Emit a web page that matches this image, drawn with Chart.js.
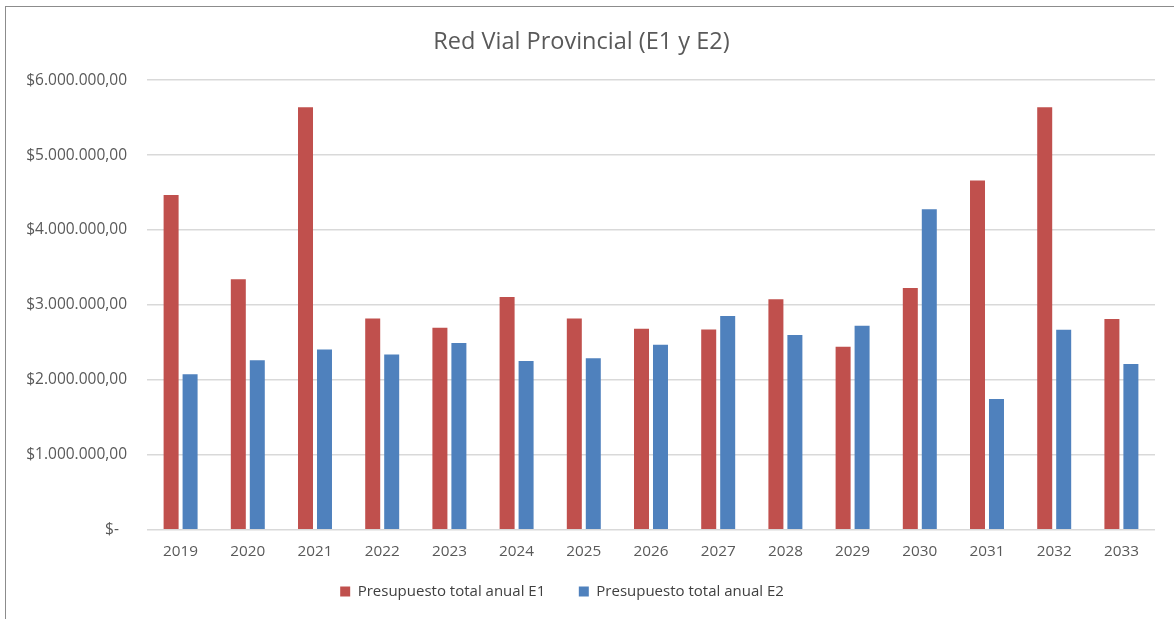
<!DOCTYPE html>
<html>
<head>
<meta charset="utf-8">
<script src="https://cdn.jsdelivr.net/npm/chart.js@4"></script>
<style>
  html, body { margin: 0; padding: 0; background: #fff; overflow: hidden; }
  .chart-container { position: relative; width: 1174px; height: 619px; }
  .frame { position: absolute; left: 5px; top: 6px; right: -10px; bottom: -10px;
           border-top: 1.5px solid #8c8c8c; border-left: 1.5px solid #8c8c8c; pointer-events: none; }
</style>
</head>
<body>
<div class="chart-container">
  <canvas id="chart" width="1174" height="619"></canvas>
  <div class="frame"></div>
</div>
<script>
const years = ['2019', '2020', '2021', '2022', '2023', '2024', '2025', '2026', '2027', '2028', '2029', '2030', '2031', '2032', '2033'];
const presupuestoE1 = [4469000, 3343000, 5640000, 2820000, 2695000, 3106000, 2820000, 2681000, 2673000, 3075000, 2440000, 3227000, 4660000, 5640000, 2811000];
const presupuestoE2 = [2074000, 2261000, 2405000, 2338000, 2490000, 2252000, 2288000, 2467000, 2851000, 2597000, 2721000, 4276000, 1743000, 2668000, 2212000];

const textColor = '#595959';
const gridColor = '#d9d9d9';
const fontFamily = '"Open Sans", "Noto Sans", sans-serif';

// Excel style accounting format: $6.000.000,00 and $- for zero
function formatMoney(value) {
  if (value === 0) return '$-  ';
  const intPart = Math.round(value).toString().replace(/\B(?=(\d{3})+(?!\d))/g, '.');
  return '$' + intPart + ',00';
}

const ctx = document.getElementById('chart').getContext('2d');
new Chart(ctx, {
  type: 'bar',
  data: {
    labels: years,
    datasets: [
      {
        label: 'Presupuesto total anual E1',
        data: presupuestoE1,
        backgroundColor: '#C0504D',
        categoryPercentage: 0.565,
        barPercentage: 0.79,
      },
      {
        label: 'Presupuesto total anual E2',
        data: presupuestoE2,
        backgroundColor: '#4F81BD',
        categoryPercentage: 0.565,
        barPercentage: 0.79,
      }
    ]
  },
  options: {
    responsive: false,
    animation: false,
    layout: {
      padding: { left: 8, right: 19, top: 28, bottom: 10 }
    },
    plugins: {
      title: {
        display: true,
        text: 'Red Vial Provincial (E1 y E2)',
        color: textColor,
        font: { family: fontFamily, size: 23.5, weight: 'normal' },
        padding: { top: 0, bottom: 24 },
      },
      legend: {
        position: 'bottom',
        labels: {
          color: '#404040',
          font: { family: fontFamily, size: 15 },
          boxWidth: 10,
          boxHeight: 10,
          padding: 18,
          // wider gap between entries and legend sitting a bit left, like the Excel one
          generateLabels: function(chart) {
            const items = Chart.defaults.plugins.legend.labels.generateLabels(chart);
            if (items.length > 1) {
              items[0].text = items[0].text + '    ';
              items[1].text = items[1].text + '          ';
            }
            return items;
          },
        },
      },
      tooltip: { enabled: false },
    },
    scales: {
      x: {
        grid: { display: false },
        border: { display: false },
        ticks: {
          color: textColor,
          font: { family: fontFamily, size: 15.3 },
          padding: 5,
        },
      },
      y: {
        min: 0,
        max: 6000000,
        afterFit: function(scale) { scale.width = 139; },
        grid: { color: gridColor, lineWidth: 1.5, drawTicks: false },
        border: { display: false },
        ticks: {
          stepSize: 1000000,
          color: textColor,
          font: { family: fontFamily, size: 15.5 },
          padding: 20,
          callback: function(value) { return formatMoney(value); },
        },
      },
    },
  },
});
</script>
</body>
</html>
